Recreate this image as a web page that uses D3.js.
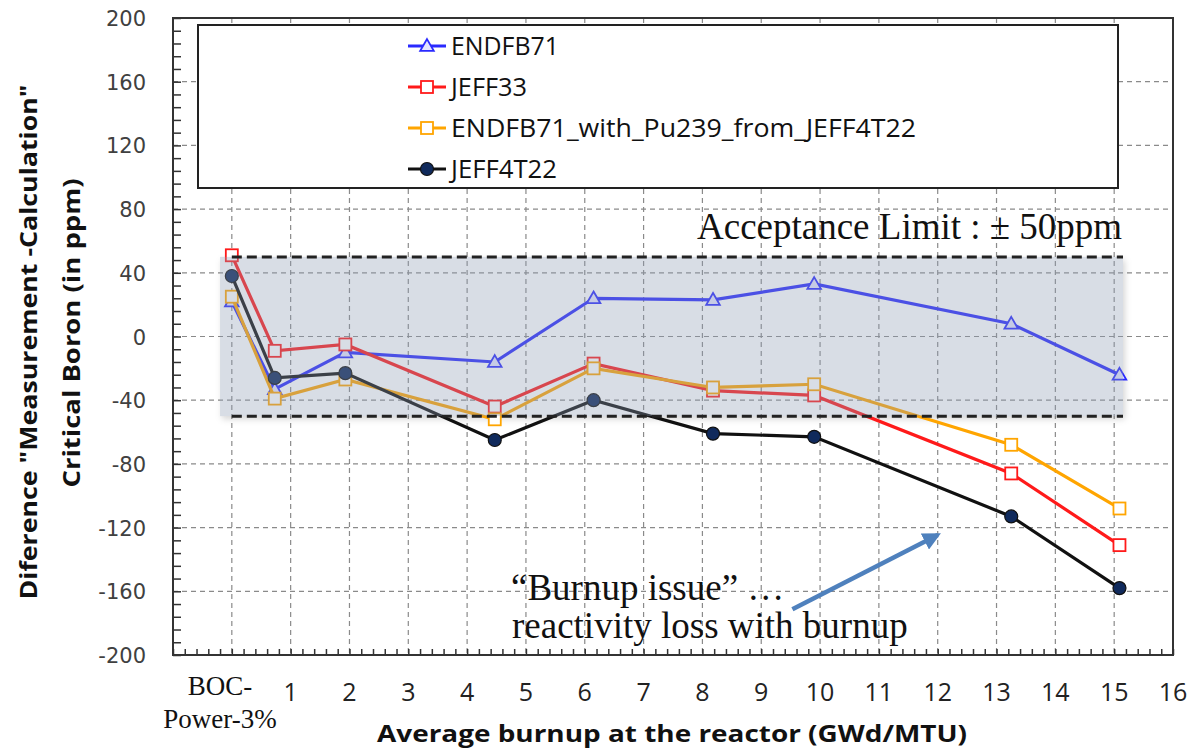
<!DOCTYPE html>
<html>
<head>
<meta charset="utf-8">
<script src="https://cdn.jsdelivr.net/npm/d3@7"></script>
<style>
  body { margin: 0; background: #fff; }
</style>
</head>
<body>
<script>
const burnup = [0, 0.73, 1.93, 4.47, 6.15, 8.18, 9.9, 13.25, 15.09];
const endfb71 = [22, -33, -10, -16, 24, 23, 33, 8, -24];
const jeff33 = [51, -9, -5, -44, -17, -34, -37, -86, -131];
const endfbPu = [25, -39, -27, -52, -20, -32, -30, -68, -108];
const jeff4t22 = [38, -26, -23, -65, -40, -61, -63, -113, -158];
const seriesNames = ["ENDFB71", "JEFF33", "ENDFB71_with_Pu239_from_JEFF4T22", "JEFF4T22"];
const yTicks = [200, 160, 120, 80, 40, 0, -40, -80, -120, -160, -200];
const xTicks = [1, 2, 3, 4, 5, 6, 7, 8, 9, 10, 11, 12, 13, 14, 15, 16];
const xGrid = [0, 1, 2, 3, 4, 5, 6, 7, 8, 9, 10, 11, 12, 13, 14, 15];
const limit = 50;

const w = 1191;
const h = 750;
const svg = d3.select("body")
              .append("svg")
              .attr("width", w)
              .attr("height", h);

const xScale = d3.scaleLinear().domain([-1, 16]).range([173, 1173]);
const yScale = d3.scaleLinear().domain([-200, 200]).range([655, 18]);

const defs = svg.append("defs");
const f = defs.append("filter").attr("id", "blur")
              .attr("x", "-5%").attr("y", "-20%").attr("width", "110%").attr("height", "140%");
f.append("feGaussianBlur").attr("stdDeviation", 3);
const mask = defs.append("mask").attr("id", "outside");
defs.append("marker").attr("id", "arrowhead")
    .attr("viewBox", "0 0 10 10").attr("refX", 8).attr("refY", 5)
    .attr("markerWidth", 4).attr("markerHeight", 4).attr("orient", "auto")
    .append("path").attr("d", "M0,0 L10,5 L0,10 z").attr("fill", "#4f81bd");

// grid
svg.append("g").selectAll("line").data(xGrid).enter().append("line")
   .attr("x1", d => xScale(d)).attr("x2", d => xScale(d))
   .attr("y1", yScale(200)).attr("y2", yScale(-200))
   .attr("stroke", "#8a8a8a").attr("stroke-width", 1.2).attr("stroke-dasharray", "5,4");
svg.append("g").selectAll("line").data(yTicks.filter(d => Math.abs(d) < 200)).enter().append("line")
   .attr("x1", xScale(-1)).attr("x2", xScale(16))
   .attr("y1", d => yScale(d)).attr("y2", d => yScale(d))
   .attr("stroke", "#8a8a8a").attr("stroke-width", 1.2).attr("stroke-dasharray", "5,4");

// minor ticks
const xAxis = d3.axisBottom(xScale).tickValues(d3.range(-1, 16.001, 0.2)).tickSize(-6).tickFormat("");
const yAxis = d3.axisLeft(yScale).tickValues(d3.range(-200, 200.001, 8)).tickSize(-8).tickFormat("");
const gx = svg.append("g").attr("transform", "translate(0," + yScale(-200) + ")").call(xAxis);
const gy = svg.append("g").attr("transform", "translate(" + xScale(-1) + ",0)").call(yAxis);
[gx, gy].forEach(g => {
  g.select(".domain").remove();
  g.selectAll("line").attr("stroke", "#333").attr("stroke-width", 1.5);
});

// series
const series = [
  {name: seriesNames[0], values: endfb71, color: "#2a2aff", shape: "tri", len: 108},
  {name: seriesNames[1], values: jeff33, color: "#ff1a1a", shape: "sq", len: 76},
  {name: seriesNames[2], values: endfbPu, color: "#ffa500", shape: "sq", len: 465},
  {name: seriesNames[3], values: jeff4t22, color: "#111111", shape: "dot", len: 106}
];
const line = d3.line().x(d => xScale(d[0])).y(d => yScale(d[1]));

function drawMarker(g, shape, color, x, y) {
  if (shape === "tri") {
    g.append("path").attr("d", d3.symbol(d3.symbolTriangle, 80)())
     .attr("transform", "translate(" + x + "," + (y + 1) + ")")
     .attr("fill", "#e4e4ff").attr("stroke", color).attr("stroke-width", 1.8);
  } else if (shape === "sq") {
    g.append("rect").attr("x", x - 6).attr("y", y - 6).attr("width", 12).attr("height", 12)
     .attr("fill", "#fff").attr("stroke", color).attr("stroke-width", 1.8);
  } else {
    g.append("circle").attr("cx", x).attr("cy", y).attr("r", 6.5)
     .attr("fill", "#102a5c").attr("stroke", "#111").attr("stroke-width", 1.2);
  }
}

// acceptance band geometry
const bx0 = xScale(-0.2), bx1 = xScale(15.15);
const by0 = yScale(limit), by1 = yScale(-limit);

// soft shadow only outside the band
mask.append("rect").attr("x", 0).attr("y", 0).attr("width", w).attr("height", h).attr("fill", "#fff");
mask.append("rect").attr("x", bx0).attr("y", by0).attr("width", bx1 - bx0).attr("height", by1 - by0).attr("fill", "#000");
svg.append("g").attr("mask", "url(#outside)")
   .append("rect").attr("x", bx0 + 2).attr("y", by0 + 3).attr("width", bx1 - bx0).attr("height", by1 - by0)
   .attr("fill", "#000").attr("fill-opacity", 0.16).attr("filter", "url(#blur)");

series.forEach(s => {
  const pts = burnup.map((b, i) => [b, s.values[i]]);
  const g = svg.append("g");
  g.append("path").datum(pts).attr("d", line)
   .attr("fill", "none").attr("stroke", s.color).attr("stroke-width", 3.2);
  pts.forEach(p => drawMarker(g, s.shape, s.color, xScale(p[0]), yScale(p[1])));
});

svg.append("rect")
   .attr("x", bx0).attr("y", by0)
   .attr("width", bx1 - bx0).attr("height", by1 - by0)
   .attr("fill", "#8c9bb4").attr("fill-opacity", 0.34);
svg.append("g").selectAll("line").data([limit, -limit]).enter().append("line")
   .attr("x1", xScale(0)).attr("x2", xScale(15.15))
   .attr("y1", d => yScale(d)).attr("y2", d => yScale(d))
   .attr("stroke", "#222").attr("stroke-width", 3).attr("stroke-dasharray", "10,5");

// legend
const legend = svg.append("g");
legend.append("rect").attr("x", 198).attr("y", 25).attr("width", 920).attr("height", 163)
      .attr("fill", "#fff").attr("stroke", "#222").attr("stroke-width", 2);
series.forEach((s, i) => {
  const ly = 46 + i * 41;
  legend.append("line").attr("x1", 408).attr("x2", 446).attr("y1", ly).attr("y2", ly)
        .attr("stroke", s.color).attr("stroke-width", 3);
  drawMarker(legend, s.shape, s.color, 427, ly);
  legend.append("text").attr("x", 451).attr("y", ly + 9)
        .attr("font-family", "Open Sans, sans-serif").attr("font-size", 25).attr("fill", "#111")
        .attr("textLength", s.len).attr("lengthAdjust", "spacingAndGlyphs")
        .text(s.name);
});

// border
svg.append("rect").attr("x", xScale(-1)).attr("y", yScale(200))
   .attr("width", xScale(16) - xScale(-1)).attr("height", yScale(-200) - yScale(200))
   .attr("fill", "none").attr("stroke", "#333").attr("stroke-width", 2);

// y tick labels
svg.append("g").selectAll("text").data(yTicks).enter().append("text")
   .attr("x", 146).attr("y", d => yScale(d) + 8)
   .attr("text-anchor", "end")
   .attr("font-family", "DejaVu Sans, sans-serif").attr("font-size", 21).attr("fill", "#404040")
   .text(d => d);

// x tick labels
svg.append("g").selectAll("text").data(xTicks).enter().append("text")
   .attr("x", d => xScale(d)).attr("y", 701)
   .attr("text-anchor", "middle")
   .attr("font-family", "Open Sans, sans-serif").attr("font-size", 25).attr("fill", "#222")
   .text(d => d);
svg.append("text").attr("x", xScale(-0.2)).attr("y", 695).attr("text-anchor", "middle")
   .attr("font-family", "Liberation Serif, Times New Roman, serif").attr("font-size", 27).attr("fill", "#111")
   .text("BOC-");
svg.append("text").attr("x", xScale(-0.2)).attr("y", 728).attr("text-anchor", "middle")
   .attr("font-family", "Liberation Serif, Times New Roman, serif").attr("font-size", 27).attr("fill", "#111")
   .text("Power-3%");

// axis titles
svg.append("text").attr("x", 672).attr("y", 742).attr("text-anchor", "middle")
   .attr("font-family", "Open Sans, sans-serif").attr("font-weight", "bold").attr("font-size", 23)
   .attr("fill", "#111").attr("textLength", 590).attr("lengthAdjust", "spacingAndGlyphs")
   .text("Average burnup at the reactor (GWd/MTU)");
svg.append("text").attr("transform", "translate(37,342) rotate(-90)").attr("text-anchor", "middle")
   .attr("font-family", "Open Sans, sans-serif").attr("font-weight", "bold").attr("font-size", 24)
   .attr("fill", "#111").attr("textLength", 515).attr("lengthAdjust", "spacingAndGlyphs")
   .text("Diference \"Measurement -Calculation\"");
svg.append("text").attr("transform", "translate(80,333) rotate(-90)").attr("text-anchor", "middle")
   .attr("font-family", "Open Sans, sans-serif").attr("font-weight", "bold").attr("font-size", 24)
   .attr("fill", "#111").attr("textLength", 309).attr("lengthAdjust", "spacingAndGlyphs")
   .text("Critical Boron (in ppm)");

// annotations
svg.append("text").attr("x", 697).attr("y", 239)
   .attr("font-family", "Liberation Serif, Times New Roman, serif").attr("font-size", 37).attr("fill", "#111")
   .text("Acceptance Limit : \u00b1 50ppm");
svg.append("text").attr("x", 511).attr("y", 600)
   .attr("font-family", "Liberation Serif, Times New Roman, serif").attr("font-size", 37).attr("fill", "#111")
   .text("\u201cBurnup issue\u201d \u2026");
svg.append("text").attr("x", 512).attr("y", 638)
   .attr("font-family", "Liberation Serif, Times New Roman, serif").attr("font-size", 37).attr("fill", "#111")
   .text("reactivity loss with burnup");
svg.append("line")
   .attr("x1", xScale(9.53)).attr("y1", yScale(-171.3))
   .attr("x2", xScale(12)).attr("y2", yScale(-124.6))
   .attr("stroke", "#4f81bd").attr("stroke-width", 4.5)
   .attr("marker-end", "url(#arrowhead)");
</script>
</body>
</html>
